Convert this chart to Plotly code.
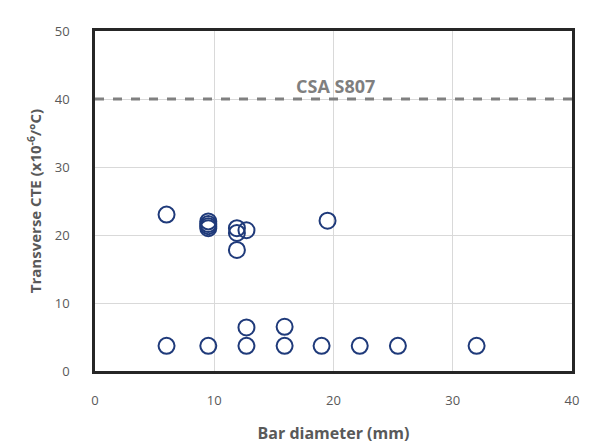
import plotly.graph_objects as go

# Bar diameter (mm) and transverse CTE (x10^-6/°C)
diameter = [6.0, 6.0, 9.5, 9.5, 9.5, 9.5, 9.5, 11.9, 11.9, 11.9, 12.7, 12.7, 12.7,
            15.9, 15.9, 19.0, 19.5, 22.2, 25.4, 32.0]
cte = [23.0, 3.7, 22.0, 21.6, 21.3, 21.0, 3.7, 21.0, 20.3, 17.8, 20.7, 6.4, 3.7,
       6.5, 3.7, 3.7, 22.1, 3.7, 3.7, 3.7]

limit_value = 40
limit_label = "CSA S807"

text_color = "#595959"
font_family = "'Open Sans', Lato, sans-serif"

fig = go.Figure()
fig.add_trace(go.Scatter(
    x=diameter, y=cte, mode="markers",
    marker=dict(symbol="circle-open", size=16, color="#1f3a7a",
                line=dict(width=2, color="#1f3a7a")),
    showlegend=False,
))

fig.add_shape(type="line", xref="x", yref="y", x0=0, x1=40,
              y0=limit_value, y1=limit_value,
              line=dict(color="#808080", width=3, dash="dash"))
fig.add_annotation(x=20.2, y=limit_value, xref="x", yref="y", text=f"<b>{limit_label}</b>",
                   showarrow=False, yanchor="bottom", yshift=-1,
                   font=dict(size=18, color="#7f7f7f", family=font_family))

fig.update_xaxes(range=[0, 40], dtick=10, showgrid=True, gridcolor="#d9d9d9", gridwidth=1,
                 zeroline=False, showline=True, linecolor="#262626", linewidth=2.5, mirror=True,
                 ticks="", tickfont=dict(size=13, color=text_color, family=font_family),
                 ticklabelstandoff=16, automargin=False,
                 title=dict(text="<b>Bar diameter (mm)</b>", standoff=20,
                            font=dict(size=16, color=text_color, family=font_family)))
fig.update_yaxes(range=[0, 50], dtick=10, showgrid=True, gridcolor="#d9d9d9", gridwidth=1,
                 zeroline=False, showline=True, linecolor="#262626", linewidth=2.5, mirror=True,
                 ticks="", tickfont=dict(size=13, color=text_color, family=font_family),
                 ticklabelstandoff=20, automargin=False,
                 title=dict(text="<b>Transverse CTE (x10<sup>-6</sup>/°C)</b>", standoff=10,
                            font=dict(size=15, color=text_color, family=font_family)))

fig.update_layout(
    width=594, height=445,
    margin=dict(l=95, r=22, t=31, b=74),
    plot_bgcolor="white", paper_bgcolor="white",
)

fig.write_html("out.html")
